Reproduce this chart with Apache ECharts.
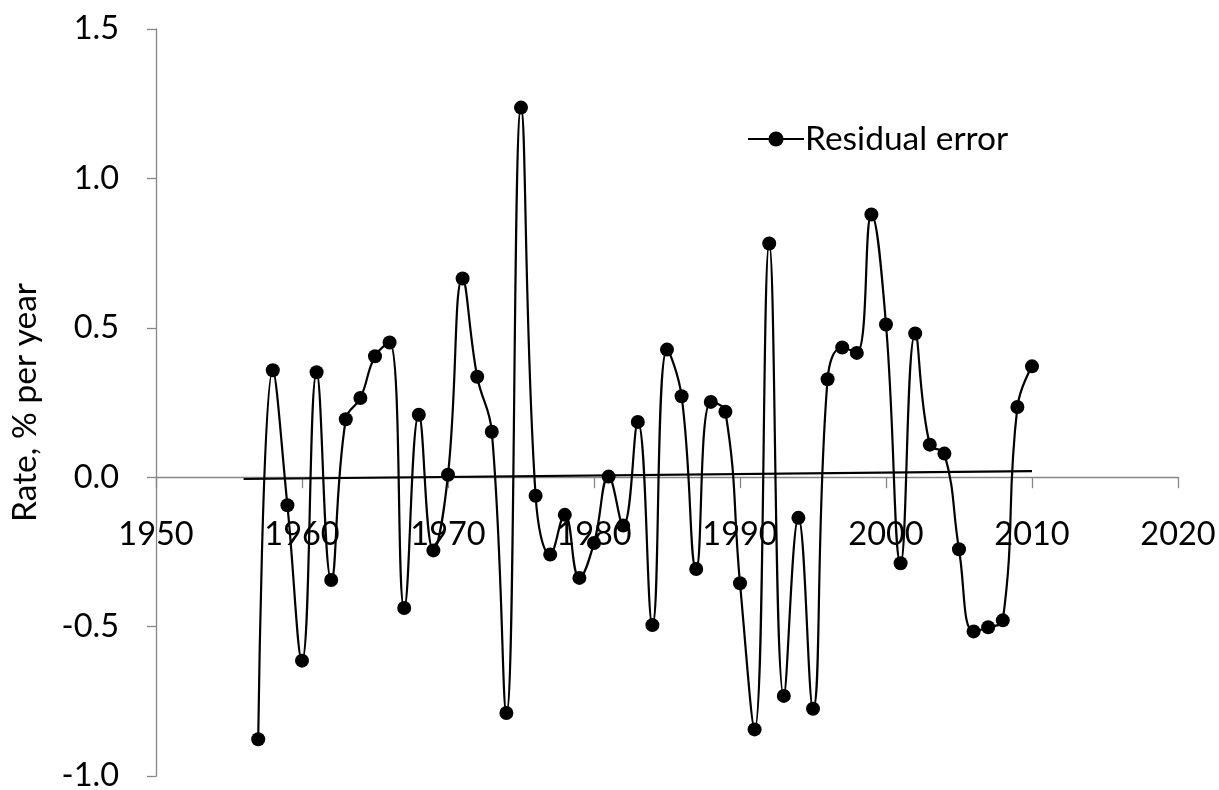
<!DOCTYPE html>
<html>
<head>
<meta charset="utf-8">
<script src="https://cdn.jsdelivr.net/npm/echarts@6/dist/echarts.min.js"></script>
<style>
html,body{margin:0;padding:0;background:#fff;}
#chart{width:1219px;height:790px;}
</style>
</head>
<body>
<div id="chart"></div>
<script>
var years = [1957,1958,1959,1960,1961,1962,1963,1964,1965,1966,1967,1968,1969,1970,
  1971,1972,1973,1974,1975,1976,1977,1978,1979,1980,1981,1982,1983,1984,1985,1986,
  1987,1988,1989,1990,1991,1992,1993,1994,1995,1996,1997,1998,1999,2000,2001,2002,
  2003,2004,2005,2006,2007,2008,2009,2010];
var residual = [-0.877,0.358,-0.094,-0.614,0.351,-0.344,0.194,0.265,0.405,0.451,-0.438,0.209,-0.245,0.008,
  0.665,0.336,0.152,-0.789,1.237,-0.062,-0.259,-0.126,-0.337,-0.220,0.002,-0.162,0.185,-0.495,0.427,0.271,
  -0.307,0.252,0.219,-0.355,-0.844,0.782,-0.732,-0.136,-0.775,0.328,0.434,0.416,0.879,0.511,-0.288,0.481,
  0.109,0.079,-0.241,-0.516,-0.502,-0.479,0.235,0.371];
var trendYears = [1956, 2010];
var trendValues = [-0.006, 0.020];
var seriesName = 'Residual error';
var yAxisTitle = 'Rate, % per year';

var FONT = 'Lato';
var GRID_TOP = 29, GRID_BOTTOM = 14, H = 790;
var Y_MIN = -1, Y_MAX = 1.5;
var plotH = H - GRID_TOP - GRID_BOTTOM;
// distance from bottom of the plot to the zero line, used to lift the x axis onto y = 0
var zeroLift = plotH * (0 - Y_MIN) / (Y_MAX - Y_MIN);

var chart = echarts.init(document.getElementById('chart'), null, {renderer:'canvas'});
chart.setOption({
  animation:false,
  backgroundColor:'#fff',
  grid:{left:156, right:41, top:GRID_TOP, bottom:GRID_BOTTOM, containLabel:false, outerBoundsMode:'none'},
  legend:{
    data:[seriesName],
    left:742, top:117,
    itemWidth:56, itemHeight:19, itemGap:10,
    textStyle:{fontFamily:FONT, fontSize:33.5, color:'#000', padding:[0,0,0,-4]}
  },
  xAxis:{
    type:'value', min:1950, max:2020, interval:10,
    position:'bottom', offset:-zeroLift,
    axisLine:{show:true, onZero:false, lineStyle:{color:'#868686', width:1.3}},
    axisTick:{show:true, length:11, lineStyle:{color:'#868686', width:1.3}},
    axisLabel:{fontFamily:FONT, fontSize:32.5, color:'#000', margin:41,
      formatter:function(v){return String(v);}},
    splitLine:{show:false}
  },
  yAxis:{
    type:'value', min:Y_MIN, max:Y_MAX, interval:0.5,
    name:yAxisTitle, nameLocation:'middle', nameRotate:90, nameGap:114,
    nameTextStyle:{fontFamily:FONT, fontSize:33.5, color:'#000'},
    axisLine:{show:true, lineStyle:{color:'#868686', width:1.3}},
    axisTick:{show:true, length:9, lineStyle:{color:'#868686', width:1.3}},
    axisLabel:{fontFamily:FONT, fontSize:32.5, color:'#000', margin:37,
      formatter:function(v){return v.toFixed(1);}},
    splitLine:{show:false}
  },
  series:[
    {
      name:seriesName, type:'line', smooth:0.45,
      data:years.map(function(y,i){return [y, residual[i]];}),
      symbol:'circle', symbolSize:14,
      lineStyle:{color:'#000', width:2.2},
      itemStyle:{color:'#000'}
    },
    {
      name:'trend', type:'line',
      data:trendYears.map(function(y,i){return [y, trendValues[i]];}),
      symbol:'none',
      lineStyle:{color:'#000', width:2.2},
      itemStyle:{color:'#000'}
    }
  ]
});
</script>
</body>
</html>
